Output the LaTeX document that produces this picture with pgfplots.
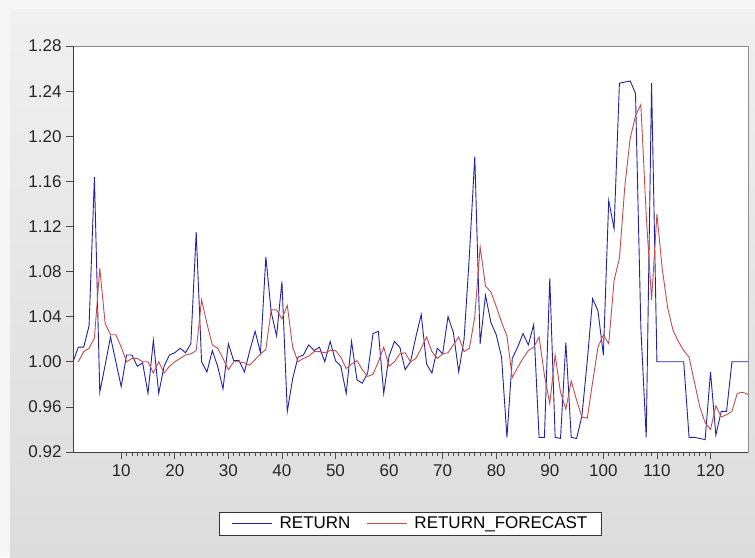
\documentclass[border=0pt]{standalone}
\usepackage{fontspec}
\setmainfont{Liberation Sans}
\usepackage{pgfplots}
\pgfplotsset{compat=1.18}
\definecolor{bgtop}{HTML}{F0F0F0}
\definecolor{bgbot}{HTML}{DCDCDC}
\definecolor{rimc}{HTML}{F7F7F7}
\definecolor{retblue}{RGB}{35,35,160}
\definecolor{fcred}{RGB}{200,75,75}
\begin{document}
\begin{tikzpicture}[x=1pt,y=1pt]
\fill[rimc] (-73,-105) rectangle (682,452);
\shade[top color=bgtop,bottom color=bgbot] (-63,-105) rectangle (682,442);
\begin{axis}[
  scale only axis, width=675pt, height=406pt,
  xmin=1, xmax=127, ymin=0.92, ymax=1.28,
  xtick={10,20,...,120}, minor x tick num=9,
  ytick={0.92,0.96,1.00,1.04,1.08,1.12,1.16,1.20,1.24,1.28},
  yticklabel style={/pgf/number format/fixed,/pgf/number format/fixed zerofill,/pgf/number format/precision=2},
  /pgf/number format/assume math mode=true,
  tick align=outside, xtick pos=bottom, ytick pos=left,
  major tick length=7pt, minor tick length=4pt,
  every tick/.style={color=black!70,line width=0.6pt},
  axis line style={draw=black!45,line width=0.8pt},
  axis background/.style={fill=white},
  ticklabel style={font=\fontsize{17}{19}\selectfont, color=black!85},
  xticklabel style={yshift=-2pt},
  yticklabel style={xshift=-1pt},
  legend style={at={(0.5,-0.176)}, anchor=center, draw=black!80, fill=white,
     font=\fontsize{17}{19}\selectfont, legend columns=2,
     /tikz/every odd column/.append style={column sep=5pt},
     /tikz/every even column/.append style={column sep=14pt}, inner ysep=3pt, inner xsep=12pt},
  legend image code/.code={\draw[#1,line width=1pt] (0pt,0pt) -- (40pt,0pt);},
  clip=true,
]
\addplot[retblue, line width=0.9pt] coordinates {
(1,1.000)(2,1.013)(3,1.013)(4,1.032)(5,1.164)(6,0.973)(7,0.997)(8,1.022)(9,1.000)(10,0.978)
(11,1.006)(12,1.006)(13,0.996)(14,0.999)(15,0.972)(16,1.019)(17,0.972)(18,0.996)(19,1.006)(20,1.008)
(21,1.012)(22,1.008)(23,1.016)(24,1.115)(25,1.000)(26,0.991)(27,1.010)(28,0.996)(29,0.976)(30,1.016)
(31,1.001)(32,1.001)(33,0.991)(34,1.010)(35,1.027)(36,1.008)(37,1.093)(38,1.044)(39,1.023)(40,1.071)
(41,0.956)(42,0.985)(43,1.004)(44,1.006)(45,1.015)(46,1.010)(47,1.013)(48,1.000)(49,1.018)(50,1.001)
(51,0.996)(52,0.972)(53,1.018)(54,0.984)(55,0.981)(56,0.990)(57,1.025)(58,1.027)(59,0.972)(60,1.005)
(61,1.018)(62,1.013)(63,0.993)(64,1.000)(65,1.022)(66,1.042)(67,0.998)(68,0.990)(69,1.012)(70,1.007)
(71,1.040)(72,1.026)(73,0.991)(74,1.020)(75,1.095)(76,1.182)(77,1.016)(78,1.059)(79,1.035)(80,1.024)
(81,1.004)(82,0.933)(83,1.003)(84,1.013)(85,1.025)(86,1.015)(87,1.033)(88,0.933)(89,0.933)(90,1.074)
(91,0.933)(92,0.932)(93,1.017)(94,0.933)(95,0.932)(96,0.952)(97,1.001)(98,1.056)(99,1.045)(100,1.006)
(101,1.143)(102,1.118)(103,1.247)(104,1.248)(105,1.249)(106,1.238)(107,1.030)(108,0.933)(109,1.247)(110,1.000)
(111,1.000)(112,1.000)(113,1.000)(114,1.000)(115,1.000)(116,0.933)(117,0.933)(118,0.932)(119,0.931)(120,0.991)
(121,0.935)(122,0.956)(123,0.956)(124,1.000)(125,1.000)(126,1.000)(127,1.000)
};
\addlegendentry{RETURN}
\addplot[fcred, line width=0.9pt] coordinates {
(2,1.000)(3,1.009)(4,1.012)(5,1.021)(6,1.083)(7,1.034)(8,1.024)(9,1.024)(10,1.013)
(11,1.000)(12,1.003)(13,1.003)(14,1.000)(15,1.000)(16,0.990)(17,1.000)(18,0.990)(19,0.996)(20,1.000)
(21,1.003)(22,1.006)(23,1.007)(24,1.010)(25,1.055)(26,1.034)(27,1.015)(28,1.012)(29,1.003)(30,0.993)
(31,1.000)(32,1.000)(33,0.999)(34,0.997)(35,1.002)(36,1.007)(37,1.011)(38,1.046)(39,1.046)(40,1.038)
(41,1.050)(42,1.013)(43,1.000)(44,1.003)(45,1.005)(46,1.009)(47,1.009)(48,1.008)(49,1.010)(50,1.010)
(51,1.004)(52,0.994)(53,0.998)(54,1.001)(55,0.993)(56,0.987)(57,0.989)(58,1.000)(59,1.013)(60,0.996)
(61,1.000)(62,1.007)(63,1.008)(64,1.000)(65,1.003)(66,1.012)(67,1.022)(68,1.009)(69,1.003)(70,1.007)
(71,1.008)(72,1.015)(73,1.022)(74,1.009)(75,1.012)(76,1.040)(77,1.102)(78,1.067)(79,1.062)(80,1.049)
(81,1.035)(82,1.023)(83,0.986)(84,0.995)(85,1.003)(86,1.010)(87,1.013)(88,1.022)(89,0.988)(90,0.963)
(91,1.006)(92,0.973)(93,0.958)(94,0.983)(95,0.966)(96,0.951)(97,0.950)(98,0.982)(99,1.013)(100,1.024)
(101,1.016)(102,1.072)(103,1.092)(104,1.155)(105,1.198)(106,1.218)(107,1.228)(108,1.130)(109,1.055)(110,1.131)
(111,1.082)(112,1.048)(113,1.028)(114,1.018)(115,1.010)(116,1.004)(117,0.982)(118,0.960)(119,0.946)(120,0.940)
(121,0.961)(122,0.951)(123,0.953)(124,0.956)(125,0.972)(126,0.973)(127,0.971)
};
\addlegendentry{RETURN\_FORECAST}
\draw[black!75,line width=0.9pt] (rel axis cs:0,1) -- (rel axis cs:0,0) -- (rel axis cs:1,0);
\end{axis}
\end{tikzpicture}
\end{document}
